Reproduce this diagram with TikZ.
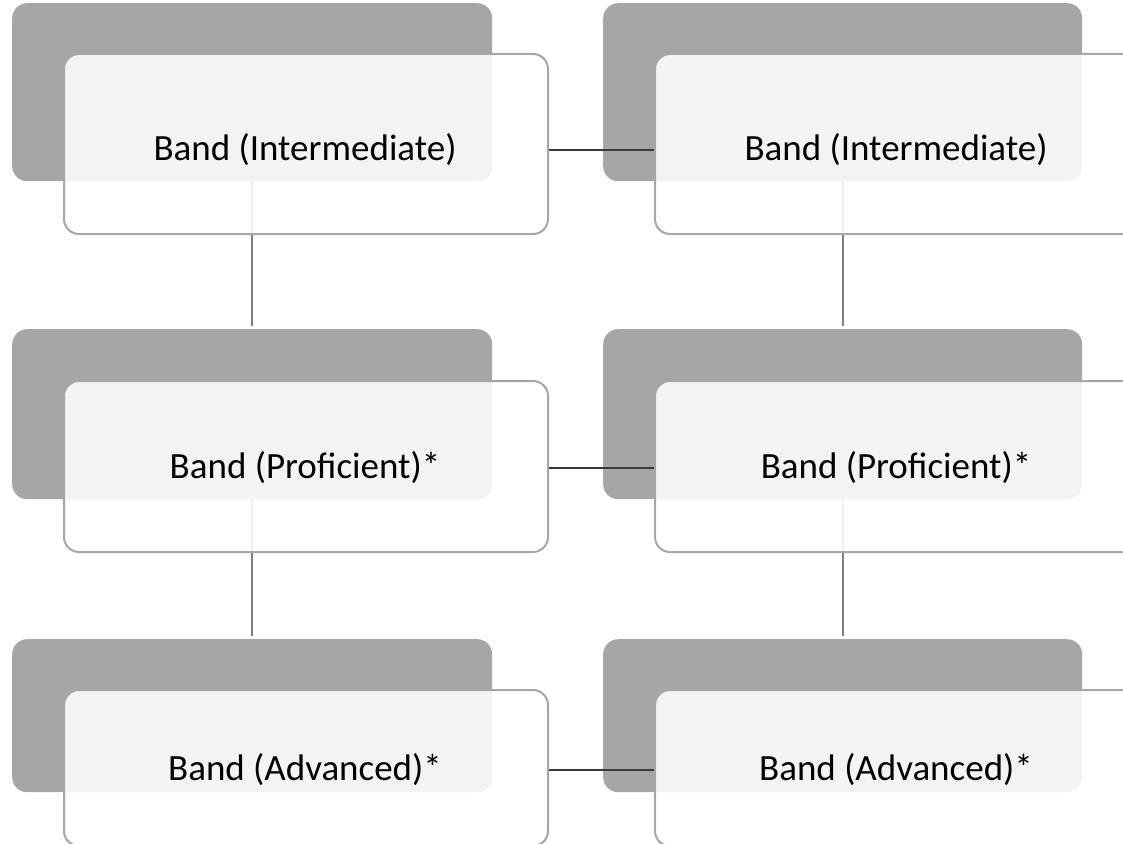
\documentclass[tikz,border=0pt]{standalone}
\usepackage{fontspec}
\setmainfont{Carlito}
\definecolor{boxgray}{HTML}{A6A6A6}
\definecolor{linkgray}{HTML}{7F7F7F}
\definecolor{linkdark}{HTML}{3A3A3A}
\tikzset{
  backbox/.style={rectangle, rounded corners=15pt, fill=boxgray, inner sep=0pt, anchor=north west},
  frontbox/.style={rectangle, rounded corners=15pt, draw=boxgray, line width=2pt, fill=white, fill opacity=0.87, inner sep=0pt, anchor=north west},
  bandtext/.style={font=\fontsize{37}{44}\selectfont, text=black, inner sep=0pt},
  vlink/.style={draw=linkgray, line width=2.2pt, shorten >=3pt},
  hlink/.style={draw=linkdark, line width=1.3pt},
}
\begin{document}
\begin{tikzpicture}[x=1pt, y=-1pt]
    \useasboundingbox (0, 0) rectangle (1123, 843);
    \clip (0, 0) rectangle (1123, 843);
    % back boxes
    \node[backbox, minimum width=480pt, minimum height=178pt] (backA1) at (12, 3) {};
    \node[backbox, minimum width=480pt, minimum height=170pt] (backA2) at (12, 329) {};
    \node[backbox, minimum width=480pt, minimum height=153pt] (backA3) at (12, 639) {};
    \node[backbox, minimum width=479pt, minimum height=178pt] (backB1) at (603, 3) {};
    \node[backbox, minimum width=479pt, minimum height=170pt] (backB2) at (603, 329) {};
    \node[backbox, minimum width=479pt, minimum height=153pt] (backB3) at (603, 639) {};
    % vertical links (under the front boxes)
    \draw[vlink] (backA1.south) -- (backA2.north);
    \draw[vlink] (backA2.south) -- (backA3.north);
    \draw[vlink] (backB1.south) -- (backB2.north);
    \draw[vlink] (backB2.south) -- (backB3.north);
    % front boxes
    \node[frontbox, minimum width=484pt, minimum height=180pt] (frontA1) at (63, 53) {};
    \node[frontbox, minimum width=484pt, minimum height=171pt] (frontA2) at (63, 380) {};
    \node[frontbox, minimum width=484pt, minimum height=156pt] (frontA3) at (63, 689) {};
    \node[frontbox, minimum width=484pt, minimum height=180pt] (frontB1) at (654, 53) {};
    \node[frontbox, minimum width=484pt, minimum height=171pt] (frontB2) at (654, 380) {};
    \node[frontbox, minimum width=484pt, minimum height=156pt] (frontB3) at (654, 689) {};
    % labels
    \node[bandtext] (textA1) at (305, 150) {Band (Intermediate)};
    \node[bandtext] (textA2) at (305, 468) {Band (Proficient)*};
    \node[bandtext] (textA3) at (305, 770) {Band (Advanced)*};
    \node[bandtext] (textB1) at (896, 150) {Band (Intermediate)};
    \node[bandtext] (textB2) at (896, 468) {Band (Proficient)*};
    \node[bandtext] (textB3) at (896, 770) {Band (Advanced)*};
    % horizontal links
    \draw[hlink] (frontA1.east |- textA1.center) -- (frontB1.west |- textA1.center);
    \draw[hlink] (frontA2.east |- textA2.center) -- (frontB2.west |- textA2.center);
    \draw[hlink] (frontA3.east |- textA3.center) -- (frontB3.west |- textA3.center);
\end{tikzpicture}
\end{document}
